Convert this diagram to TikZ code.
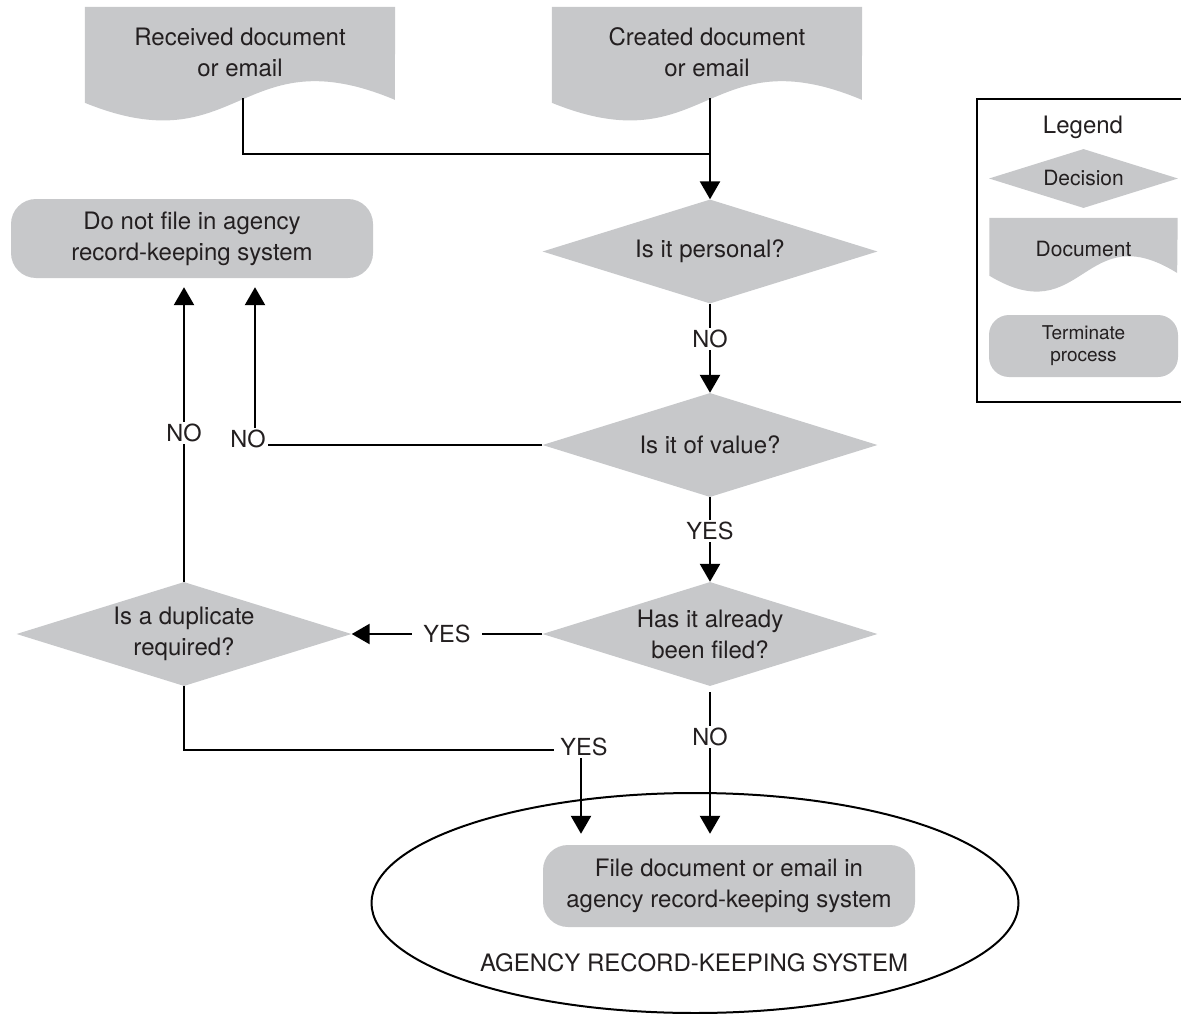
\documentclass[tikz,border=0pt]{standalone}
\usepackage{fontspec}
\setmainfont{TeX Gyre Heros}
\usetikzlibrary{arrows.meta,shapes,positioning,backgrounds}
\definecolor{boxgray}{RGB}{199,200,202}
\definecolor{inkgray}{RGB}{35,31,32}
\tikzstyle{every node}=[text=inkgray,align=center,font=\fontsize{24}{31}\selectfont]
\tikzstyle{decision}=[diamond,fill=boxgray,inner sep=0pt,aspect=3.16,minimum width=335pt,minimum height=104pt]
\tikzstyle{stopbox}=[rectangle,rounded corners=25pt,fill=boxgray]
\tikzstyle{docbox}=[rectangle,inner sep=0pt,minimum width=310pt,minimum height=91pt]
\tikzstyle{conn}=[draw=black,line width=2.5pt]
\tikzstyle{flow}=[conn,-{Triangle[length=18pt,width=20pt]}]
\tikzstyle{answer}=[fill=white,inner sep=2pt,font=\fontsize{23.5}{28}\selectfont]
\newcommand{\docwave}[4]{%
  \begin{scope}[on background layer]
  \fill[boxgray] (#1.north west) -- ++(0,#3+21*#4)
    .. controls +(155*#2,63*#4) and +(-155*#2,-65*#4) .. ++(310*#2,-3*#4)
    -- (#1.north east) -- cycle;
  \end{scope}}

\begin{document}
\begin{tikzpicture}[x=1pt,y=-1pt]
  \useasboundingbox (0,0) rectangle (1181,1014);
  \node[docbox] (received) at (240,52.5) {Received document\\or email};
  \docwave{received}{1}{75}{1}
  \node[docbox] (created) at (707,52.5) {Created document\\or email};
  \docwave{created}{1}{75}{1}
  \node[decision] (personal) at (710,251.5) {Is it personal?};
  \node[decision] (value) at (710,445) {Is it of value?};
  \node[decision] (filed) at (710,634) {Has it already\\been filed?};
  \node[decision] (duplicate) at (184,634) {Is a duplicate\\required?};
  \node[stopbox,minimum width=362pt,minimum height=79pt] (nofile) at (192,238.5)
    {Do not file in agency\\record-keeping system};
  \node[ellipse,draw=black,line width=2pt,inner sep=0pt,minimum width=647pt,minimum height=220pt] (agency) at (695,903) {};
  \node[stopbox,minimum width=372pt,minimum height=82pt] (file) at (729,886)
    {File document or email in\\agency record-keeping system};
  \node (agencylabel) at (694,963) {AGENCY RECORD-KEEPING SYSTEM};

  \coordinate (merge) at (710,154);
  \coordinate (novalue) at (255,445);
  \coordinate (dupturn) at (581,750);
  \draw[conn] ([xshift=3pt]received.south) |- (merge);
  \draw[flow] ([xshift=3pt]created.south) -- (personal.north);
  \draw[flow] (personal) -- node[answer,pos=0.4] {NO} (value);
  \draw[flow] (value) -- node[answer,pos=0.4] {YES} (filed);
  \draw[flow] (filed) -- node[answer,inner xsep=11pt] {YES} (duplicate);
  \draw[flow,shorten >=9pt] (duplicate) -- node[answer,pos=0.49] {NO} (duplicate |- nofile.south);
  \draw[flow,shorten >=9pt] (value) -- (novalue) node[answer,xshift=-7pt,yshift=6pt] {NO}
    -- (novalue |- nofile.south);
  \draw[flow,shorten >=11pt] (duplicate) |- (dupturn) node[answer,xshift=3pt,yshift=3pt,inner xsep=6pt] {YES}
    -- (dupturn |- file.north);
  \draw[flow,shorten >=11pt,shorten <=6pt] (filed) -- node[answer,pos=0.32] {NO} (filed.south |- file.north);

  \draw[line width=2.5pt] (977,99) rectangle (1186,402);
  \node (legendtitle) at (1083,127) {Legend};
  \node[decision,minimum width=189pt,minimum height=59pt,font=\fontsize{21}{25}\selectfont] (keydecision)
    at (1083.5,178.5) {Decision};
  \node[docbox,minimum width=188pt,minimum height=62pt,font=\fontsize{21}{25}\selectfont] (keydocument)
    at (1083.5,249) {Document};
  \docwave{keydocument}{0.606}{39}{0.9}
  \node[stopbox,minimum width=189pt,minimum height=62pt,rounded corners=20pt,font=\fontsize{19}{22}\selectfont] (keyterminate)
    at (1083.5,346) {Terminate\\process};
\end{tikzpicture}
\end{document}
